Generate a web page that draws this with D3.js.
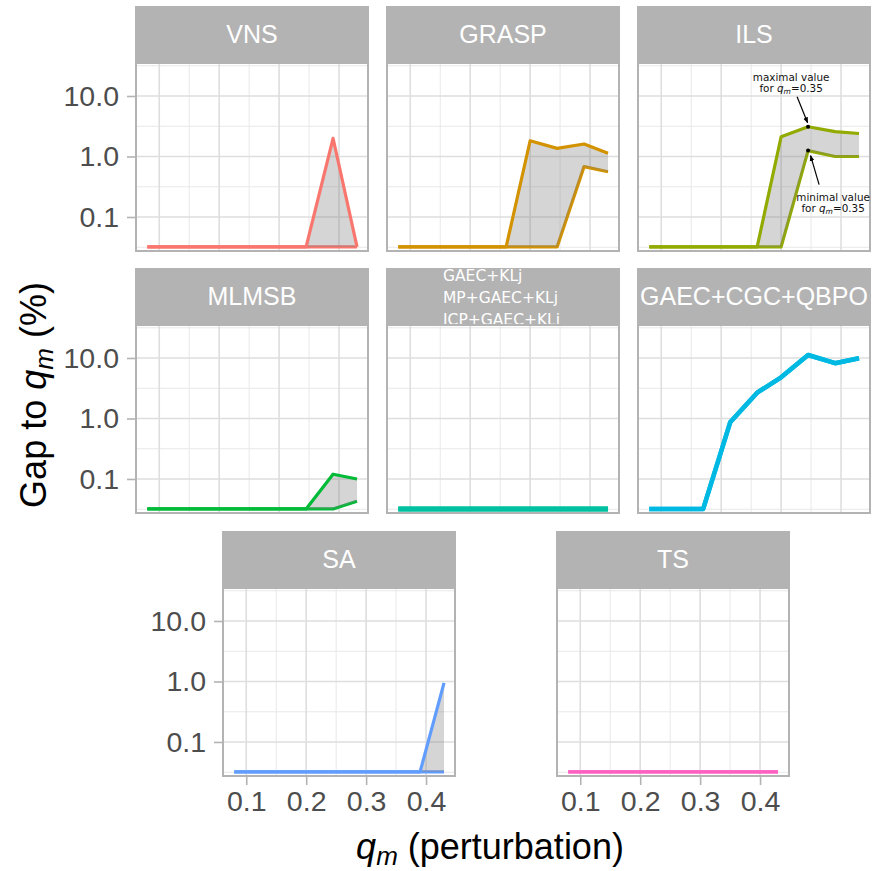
<!DOCTYPE html>
<html>
<head>
<meta charset="utf-8">
<script src="https://cdn.jsdelivr.net/npm/d3@7"></script>
<style>body{margin:0;background:#fff}</style>
</head>
<body>
<script>
// perturbation values (x) shared by every panel
var qm = [0.08, 0.125, 0.17, 0.215, 0.26, 0.30, 0.345, 0.39, 0.43];
// zero gaps are drawn at the bottom of the log axis
var vnsMax   = [0.032, 0.032, 0.032, 0.032, 0.032, 0.032, 0.032, 2.0, 0.032];
var vnsMin   = [0.032, 0.032, 0.032, 0.032, 0.032, 0.032, 0.032, 0.032, 0.032];
var graspMax = [0.032, 0.032, 0.032, 0.032, 0.032, 1.82, 1.36, 1.61, 1.13];
var graspMin = [0.032, 0.032, 0.032, 0.032, 0.032, 0.032, 0.032, 0.68, 0.56];
var ilsMax   = [0.032, 0.032, 0.032, 0.032, 0.032, 2.12, 3.1, 2.57, 2.4];
var ilsMin   = [0.032, 0.032, 0.032, 0.032, 0.032, 0.032, 1.25, 1.0, 1.0];
var mlmsbMax = [0.032, 0.032, 0.032, 0.032, 0.032, 0.032, 0.032, 0.12, 0.10];
var mlmsbMin = [0.032, 0.032, 0.032, 0.032, 0.032, 0.032, 0.032, 0.032, 0.043];
var klMax    = [0.032, 0.032, 0.032, 0.032, 0.032, 0.032, 0.032, 0.032, 0.032];
var klMin    = [0.032, 0.032, 0.032, 0.032, 0.032, 0.032, 0.032, 0.032, 0.032];
var qbpoMax  = [0.032, 0.032, 0.032, 0.865, 2.67, 4.8, 11.2, 8.2, 9.9];
var qbpoMin  = [0.032, 0.032, 0.032, 0.865, 2.67, 4.8, 11.2, 8.2, 9.9];
var saMax    = [0.032, 0.032, 0.032, 0.032, 0.032, 0.032, 0.032, 0.032, 0.95];
var saMin    = [0.032, 0.032, 0.032, 0.032, 0.032, 0.032, 0.032, 0.032, 0.032];
var tsMax    = [0.032, 0.032, 0.032, 0.032, 0.032, 0.032, 0.032, 0.032, 0.032];
var tsMin    = [0.032, 0.032, 0.032, 0.032, 0.032, 0.032, 0.032, 0.032, 0.032];

var methods = ["VNS", "GRASP", "ILS", "MLMSB", "GAEC+KLj\nMP+GAEC+KLj\nICP+GAEC+KLj", "GAEC+CGC+QBPO", "SA", "TS"];
var colors = ["#F8766D", "#D39200", "#93AA00", "#00BA38", "#00C19F", "#00B9E3", "#619CFF", "#FF61C3"];

var xTicks = [0.1, 0.2, 0.3, 0.4];
var xMinor = [0.15, 0.25, 0.35];
var yTicks = [0.1, 1, 10];
var yMinor = [0.0316, 0.316, 3.16, 31.6];

var width = 872, height = 871;
var pw = 232, ph = 188, stripH = 56;

var panels = [
    {i:0, max:vnsMax,   min:vnsMin,   x:136, y:63,  left:true,  bottom:false, lw:3.2},
    {i:1, max:graspMax, min:graspMin, x:387, y:63,  left:false, bottom:false, lw:3.2},
    {i:2, max:ilsMax,   min:ilsMin,   x:638, y:63,  left:false, bottom:false, lw:3.2},
    {i:3, max:mlmsbMax, min:mlmsbMin, x:136, y:325, left:true,  bottom:false, lw:3.2},
    {i:4, max:klMax,    min:klMin,    x:387, y:325, left:false, bottom:false, lw:5},
    {i:5, max:qbpoMax,  min:qbpoMin,  x:638, y:325, left:false, bottom:false, lw:4.5},
    {i:6, max:saMax,    min:saMin,    x:223, y:588, left:true,  bottom:true,  lw:3.2},
    {i:7, max:tsMax,    min:tsMin,    x:557, y:588, left:false, bottom:true,  lw:3.4}
];

var svg = d3.select("body")
    .append("svg")
    .attr("width", width)
    .attr("height", height)
    .style("font-family", "'Liberation Sans', Arial, sans-serif");

svg.append("rect").attr("width", width).attr("height", height).attr("fill", "#fff");

var x = d3.scaleLinear().domain([0.0612, 0.4483]).range([0, pw]);
var y = d3.scaleLog().domain([0.0274, 35.1]).range([ph, 0]);

var line = d3.line().x(function(d){ return x(d[0]); }).y(function(d){ return y(d[1]); });
var area = d3.area()
    .x(function(d){ return x(d[0]); })
    .y0(function(d){ return y(d[1]); })
    .y1(function(d){ return y(d[2]); });

// arrow head for the ILS notes
svg.append("defs").append("marker")
    .attr("id", "arr").attr("viewBox", "0 0 10 10")
    .attr("refX", 9).attr("refY", 5)
    .attr("markerWidth", 5).attr("markerHeight", 5)
    .attr("orient", "auto")
    .append("path").attr("d", "M0,1 L10,5 L0,9 z").attr("fill", "#000");

panels.forEach(function(p){
    var g = svg.append("g").attr("transform", "translate(" + p.x + "," + p.y + ")");

    // strip
    g.append("rect")
        .attr("x", -1).attr("y", -stripH - 1)
        .attr("width", pw + 2).attr("height", stripH)
        .attr("fill", "#b3b3b3");
    var label = methods[p.i].split("\n");
    if (label.length === 1) {
        g.append("text")
            .attr("x", pw / 2).attr("y", -stripH / 2 - 1)
            .attr("dy", "0.35em")
            .attr("text-anchor", "middle")
            .attr("fill", "#fff")
            .style("font-size", "25px")
            .text(label[0]);
    } else {
        label.forEach(function(t, k){
            g.append("text")
                .attr("x", 56).attr("y", -44 + k * 22)
                .attr("fill", "#fff")
                .style("font-family", "'DejaVu Sans', sans-serif")
                .style("font-size", "15.5px")
                .text(t);
        });
    }

    g.append("rect").attr("y", 1).attr("width", pw).attr("height", ph - 1).attr("fill", "#fff");

    // grid
    g.selectAll(".xm").data(xMinor).enter().append("line")
        .attr("x1", x).attr("x2", x).attr("y1", 0).attr("y2", ph)
        .style("stroke", "#e8e8e8").style("stroke-width", 1);
    g.selectAll(".ym").data(yMinor).enter().append("line")
        .attr("y1", y).attr("y2", y).attr("x1", 0).attr("x2", pw)
        .style("stroke", "#e8e8e8").style("stroke-width", 1);
    g.selectAll(".xg").data(xTicks).enter().append("line")
        .attr("x1", x).attr("x2", x).attr("y1", 0).attr("y2", ph)
        .style("stroke", "#dedede").style("stroke-width", 1.6);
    g.selectAll(".yg").data(yTicks).enter().append("line")
        .attr("y1", y).attr("y2", y).attr("x1", 0).attr("x2", pw)
        .style("stroke", "#dedede").style("stroke-width", 1.6);

    var maxPts = qm.map(function(q, k){ return [q, p.max[k]]; });
    var minPts = qm.map(function(q, k){ return [q, p.min[k]]; });
    var band = qm.map(function(q, k){ return [q, p.min[k], p.max[k]]; });

    g.append("path").attr("d", line(minPts))
        .attr("fill", "none").attr("stroke", colors[p.i])
        .attr("stroke-width", p.lw).attr("stroke-linejoin", "round");
    g.append("path").attr("d", area(band))
        .attr("fill", "#7f7f7f").attr("fill-opacity", 0.33);
    g.append("path").attr("d", line(maxPts))
        .attr("fill", "none").attr("stroke", colors[p.i])
        .attr("stroke-width", p.lw).attr("stroke-linejoin", "round");

    // border
    g.append("rect").attr("width", pw).attr("height", ph)
        .attr("fill", "none").attr("stroke", "#b3b3b3").attr("stroke-width", 2);

    if (p.left) {
        var ay = g.append("g").call(d3.axisLeft(y).tickValues(yTicks)
            .tickFormat(d3.format(".1f")).tickSize(8).tickPadding(9));
        ay.select(".domain").remove();
        ay.selectAll("line").attr("stroke", "#b3b3b3").attr("stroke-width", 1.6).attr("transform", "translate(-1,0)");
        ay.selectAll("text").attr("fill", "#4d4d4d")
            .style("font-size", "28.5px").style("font-family", "'Liberation Sans', Arial, sans-serif");
    }
    if (p.bottom) {
        var ax = g.append("g").attr("transform", "translate(0," + ph + ")")
            .call(d3.axisBottom(x).tickValues(xTicks)
            .tickFormat(d3.format(".1f")).tickSize(8).tickPadding(7));
        ax.select(".domain").remove();
        ax.selectAll("line").attr("stroke", "#b3b3b3").attr("stroke-width", 1.6).attr("transform", "translate(0,1)");
        ax.selectAll("text").attr("fill", "#4d4d4d")
            .style("font-size", "28.5px").style("font-family", "'Liberation Sans', Arial, sans-serif");
    }

    if (p.i === 2) {
        var px = x(qm[6]), pyMax = y(p.max[6]), pyMin = y(p.min[6]);
        var note = g.append("g")
            .style("font-family", "'DejaVu Sans', sans-serif")
            .style("font-size", "10.4px")
            .attr("fill", "#111");
        note.append("circle").attr("cx", px).attr("cy", pyMax).attr("r", 2).attr("fill", "#000");
        note.append("circle").attr("cx", px).attr("cy", pyMin).attr("r", 2).attr("fill", "#000");
        note.append("line")
            .attr("x1", px - 11).attr("y1", pyMax - 30)
            .attr("x2", px - 0.5).attr("y2", pyMax - 4)
            .attr("stroke", "#000").attr("stroke-width", 1.2)
            .attr("marker-end", "url(#arr)");
        note.append("line")
            .attr("x1", px + 11).attr("y1", pyMin + 34)
            .attr("x2", px + 2.5).attr("y2", pyMin + 5)
            .attr("stroke", "#000").attr("stroke-width", 1.2)
            .attr("marker-end", "url(#arr)");
        note.append("text").attr("x", px - 17).attr("y", pyMax - 46)
            .attr("text-anchor", "middle").text("maximal value");
        var t1 = note.append("text").attr("x", px - 17).attr("y", pyMax - 35)
            .attr("text-anchor", "middle");
        t1.append("tspan").text("for ");
        t1.append("tspan").style("font-style", "italic").text("q");
        t1.append("tspan").style("font-style", "italic").style("font-size", "7.5px").attr("dy", 2).text("m");
        t1.append("tspan").attr("dy", -2).text("=0.35");
        note.append("text").attr("x", px + 25).attr("y", pyMin + 50)
            .attr("text-anchor", "middle").text("minimal value");
        var t2 = note.append("text").attr("x", px + 25).attr("y", pyMin + 61)
            .attr("text-anchor", "middle");
        t2.append("tspan").text("for ");
        t2.append("tspan").style("font-style", "italic").text("q");
        t2.append("tspan").style("font-style", "italic").style("font-size", "7.5px").attr("dy", 2).text("m");
        t2.append("tspan").attr("dy", -2).text("=0.35");
    }
});

// axis titles
var ty = svg.append("text")
    .attr("transform", "translate(46,395) rotate(-90)")
    .attr("text-anchor", "middle")
    .style("font-size", "36px")
    .attr("fill", "#000");
ty.append("tspan").text("Gap to ");
ty.append("tspan").style("font-style", "italic").text("q");
ty.append("tspan").style("font-style", "italic").style("font-size", "26px").attr("dy", 7).text("m");
ty.append("tspan").attr("dy", -7).text(" (%)");

var tx = svg.append("text")
    .attr("x", 490).attr("y", 859)
    .attr("text-anchor", "middle")
    .style("font-size", "36px")
    .attr("fill", "#000");
tx.append("tspan").style("font-style", "italic").text("q");
tx.append("tspan").style("font-style", "italic").style("font-size", "26px").attr("dy", 6).text("m");
tx.append("tspan").attr("dy", -6).text(" (perturbation)");
</script>
</body>
</html>
